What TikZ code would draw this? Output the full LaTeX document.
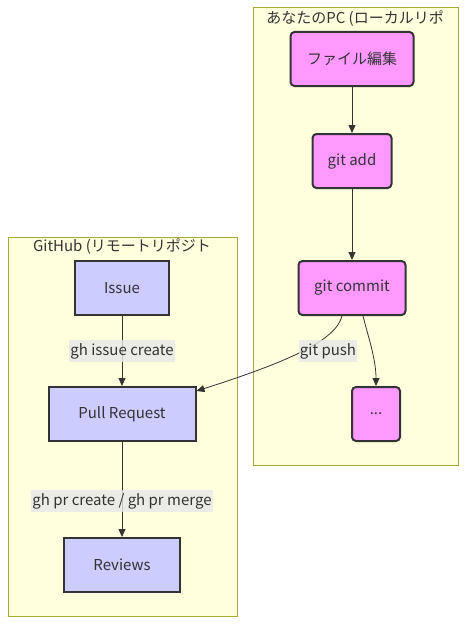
\documentclass[tikz,border=0pt]{standalone}
\usepackage{fontspec}
\setmainfont{Noto Sans CJK JP}
\usetikzlibrary{arrows.meta}

\definecolor{localfill}{HTML}{FF99FF}
\definecolor{remotefill}{HTML}{CCCCFF}
\definecolor{nodeline}{HTML}{333333}
\definecolor{clusterfill}{HTML}{FFFFDE}
\definecolor{clusterline}{HTML}{AAAA33}
\definecolor{labelfill}{HTML}{E8E8E8}

\tikzset{
    local node/.style = {draw = nodeline, line width = 2pt, fill = localfill, rounded corners = 4pt, minimum height = 54pt, inner sep = 0pt, text = nodeline, font = \fontsize{15}{18}\selectfont},
    remote node/.style = {draw = nodeline, line width = 2pt, fill = remotefill, minimum height = 54pt, inner sep = 0pt, text = nodeline, font = \fontsize{15}{18}\selectfont},
    cluster box/.style = {draw = clusterline, fill = clusterfill, line width = 1pt},
    cluster title/.style = {text = nodeline, font = \fontsize{15}{18}\selectfont},
    edge line/.style = {draw = nodeline, line width = 0.8pt, -{Triangle[length = 8pt, width = 7pt]}},
    edge label/.style = {fill = labelfill, fill opacity = 0.8, text opacity = 1, inner xsep = 1pt, inner ysep = 3pt, text = nodeline, font = \fontsize{15}{18}\selectfont}
}

\begin{document}
\begin{tikzpicture}[x = 1pt, y = -1pt]
            \useasboundingbox (0, 0) rectangle (473, 634);

            \coordinate (local_tl) at (253, 8);
            \coordinate (local_br) at (458, 465);
            \coordinate (remote_tl) at (8, 237);
            \coordinate (remote_br) at (237, 616);

            \draw[cluster box] (local_tl) rectangle (local_br);
            \draw[cluster box] (remote_tl) rectangle (remote_br);

            \node[cluster title] (local_title) at (355, 19) {あなたのPC (ローカルリポ};
            \node[cluster title] (remote_title) at (122, 247) {GitHub (リモートリポジト};

            \node[local node, minimum width = 123pt] (edit) at (352, 59) {ファイル編集};
            \node[local node, minimum width = 79pt] (add) at (352, 161) {git add};
            \node[local node, minimum width = 107pt] (commit) at (352, 288) {git commit};
            \node[local node, minimum width = 48pt] (dots) at (376, 414) {...};

            \node[remote node, minimum width = 94pt] (issue) at (122, 288) {Issue};
            \node[remote node, minimum width = 147pt] (pr) at (122, 414) {Pull Request};
            \node[remote node, minimum width = 116pt] (reviews) at (122, 565) {Reviews};

            \draw[edge line] (edit) -- (add);
            \draw[edge line] (add) -- (commit);
            \draw[edge line] ([xshift = 11pt]commit.south) .. controls +(5, 20) and +(0, -27) .. (dots.north);

            \draw[edge line] ([xshift = -10pt]commit.south) .. controls +(-6, 24) and +(94, -30) .. ([yshift = -5pt]pr.north east);
            \node[edge label] (push_label) at (328, 351) {git push};

            \draw[edge line] (issue) -- node[edge label] (issue_label) {gh issue create} (pr);
            \draw[edge line] (pr) -- node[edge label, pos = 0.62] (pr_label) {gh pr create / gh pr merge} (reviews);
        \end{tikzpicture}
\end{document}
